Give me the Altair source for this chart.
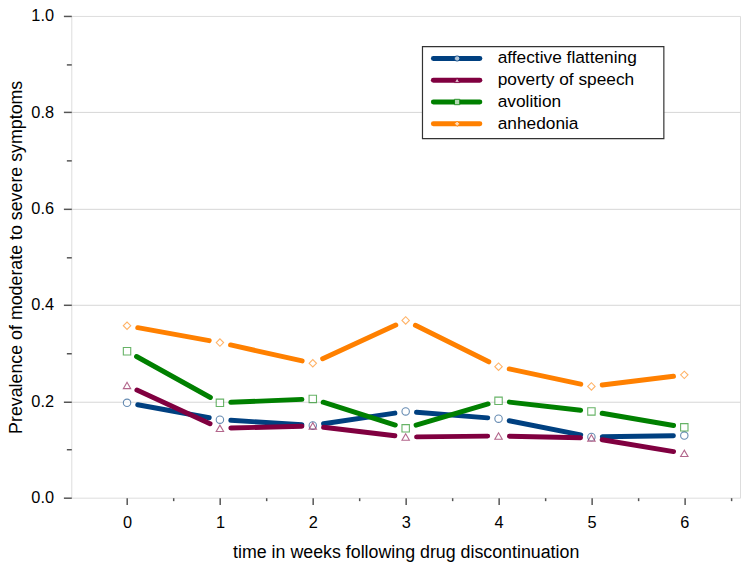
import altair as alt
import pandas as pd

# ---- data ----
weeks = [0, 1, 2, 3, 4, 5, 6]
series_names = ["affective flattening", "poverty of speech", "avolition", "anhedonia"]
affective_flattening = [0.197, 0.162, 0.150, 0.179, 0.164, 0.126, 0.129]
poverty_of_speech = [0.233, 0.144, 0.149, 0.126, 0.128, 0.124, 0.092]
avolition = [0.304, 0.197, 0.205, 0.144, 0.201, 0.179, 0.146]
anhedonia = [0.357, 0.322, 0.279, 0.368, 0.272, 0.231, 0.255]

y_tick_values = [0.0, 0.1, 0.2, 0.3, 0.4, 0.5, 0.6, 0.7, 0.8, 0.9, 1.0]
x_tick_values = [0, 0.5, 1, 1.5, 2, 2.5, 3, 3.5, 4, 4.5, 5, 5.5, 6, 6.5]

# ---- styles ----
line_colors = ["#004080", "#800040", "#008000", "#ff8000"]
marker_shapes = ["circle", "triangle-up", "square", "diamond"]
FONT = "Liberation Sans"
W, H = 676, 487
X_DOMAIN = [-0.6, 6.6]
PX = W / (X_DOMAIN[1] - X_DOMAIN[0])
PY = H / 1.0
GAP = 11

all_series = [affective_flattening, poverty_of_speech, avolition, anhedonia]

pt_rows = []
seg_rows = []
for name, vals in zip(series_names, all_series):
    for i, (w, v) in enumerate(zip(weeks, vals)):
        pt_rows.append({"series": name, "week": w, "value": v})
        if i + 1 < len(weeks):
            seg_rows.append({"series": name, "x0": w, "y0": v,
                             "x1": weeks[i + 1], "y1": vals[i + 1]})
pt_df = pd.DataFrame(pt_rows)
seg_df = pd.DataFrame(seg_rows)

stroke_scale = alt.Scale(domain=series_names, range=line_colors)
shape_scale = alt.Scale(domain=series_names, range=marker_shapes)
x_scale = alt.Scale(domain=X_DOMAIN, nice=False, zero=False)
y_scale = alt.Scale(domain=[0, 1], nice=False)

x_major = "abs(datum.value - round(datum.value)) < 1e-6"
y_major = "abs(datum.value*5 - round(datum.value*5)) < 1e-6"

x_axis = alt.Axis(
    values=x_tick_values,
    labelExpr=f"{x_major} ? format(datum.value, 'd') : ''",
    tickSize={"condition": {"test": x_major, "value": 7}, "value": 3},
    grid=False, domain=False,
    tickColor="#555", tickWidth=1.5,
    labelFontSize=16.5, labelColor="black", labelPadding=10,
    title="time in weeks following drug discontinuation",
    titleFontSize=18, titleFontWeight="normal", titleColor="black",
    titleBaseline="alphabetic", titleY=60, titleX=W / 2,
)
y_axis = alt.Axis(
    values=y_tick_values,
    labelExpr=f"{y_major} ? format(datum.value, '.1f') : ''",
    tickSize={"condition": {"test": y_major, "value": 8}, "value": 5},
    grid=True,
    gridColor="#d6d6d6", gridWidth=1,
    gridOpacity={"condition": {"test": f"{y_major} && datum.value > 0.01 && datum.value < 0.99", "value": 1}, "value": 0},
    domain=False,
    tickColor="#555", tickWidth=1.5,
    labelFontSize=16.5, labelColor="black", labelPadding=10,
    title="Prevalence of moderate to severe symptoms",
    titleFontSize=18, titleFontWeight="normal", titleColor="black",
    titleBaseline="alphabetic", titleX=-50, titleY=H / 2, titleAngle=-90,
)

segs = alt.Chart(seg_df).transform_calculate(
    L=f"sqrt(pow((datum.x1-datum.x0)*{PX},2)+pow((datum.y1-datum.y0)*{PY},2))"
).transform_calculate(
    f=f"{GAP}/datum.L"
).transform_calculate(
    xs="datum.x0 + datum.f*(datum.x1-datum.x0)",
    xe="datum.x1 - datum.f*(datum.x1-datum.x0)",
    ys="datum.y0 + datum.f*(datum.y1-datum.y0)",
    ye="datum.y1 - datum.f*(datum.y1-datum.y0)",
).mark_rule(strokeWidth=5, strokeCap="round").encode(
    x=alt.X("xs:Q", scale=x_scale, axis=x_axis),
    x2="xe:Q",
    y=alt.Y("ys:Q", scale=y_scale, axis=y_axis),
    y2="ye:Q",
    stroke=alt.Stroke("series:N", scale=stroke_scale, legend=None),
)

pts = alt.Chart(pt_df).mark_point(filled=True, fill="white", strokeWidth=1.1,
                                   size=56, strokeOpacity=0.85).encode(
    x=alt.X("week:Q", scale=x_scale),
    y=alt.Y("value:Q", scale=y_scale),
    stroke=alt.Stroke("series:N", scale=stroke_scale, legend=None),
    shape=alt.Shape("series:N", scale=shape_scale, legend=None),
)

main = alt.layer(segs, pts)

# ---- legend (drawn as marks) ----
leg_df = pd.DataFrame({"series": series_names, "idx": list(range(len(series_names)))})
leg_y = alt.Y("idx:Q", scale=alt.Scale(domain=[0, len(series_names) - 1], range=[43, 109], nice=False, zero=False), axis=None)

box = alt.Chart(pd.DataFrame({"k": [0]})).mark_rect(
    fill="white", stroke="#333", strokeWidth=1.2
).encode(x=alt.value(355), x2=alt.value(599), y=alt.value(31), y2=alt.value(124))

leg_lines = alt.Chart(leg_df).mark_rule(strokeWidth=5, strokeCap="round").encode(
    x=alt.value(366), x2=alt.value(413), y=leg_y,
    stroke=alt.Stroke("series:N", scale=stroke_scale, legend=None),
)
leg_pts = alt.Chart(leg_df).mark_point(filled=True, fill="white", strokeWidth=1, size=30).encode(
    x=alt.value(390), y=leg_y,
    stroke=alt.Stroke("series:N", scale=stroke_scale, legend=None),
    shape=alt.Shape("series:N", scale=shape_scale, legend=None),
)
leg_text = alt.Chart(leg_df).mark_text(align="left", baseline="middle", fontSize=17.5,
                                       font=FONT, color="black").encode(
    x=alt.value(431), y=leg_y, text="series:N",
)
legend = alt.layer(box, leg_lines, leg_pts, leg_text)

chart = alt.layer(main, legend).resolve_scale(y="independent").properties(
    width=W, height=H,
    autosize=alt.AutoSizeParams(type="none"),
    padding={"left": 64, "top": 5, "right": 2, "bottom": 64},
).configure_view(
    stroke="#555", strokeWidth=1.5
).configure_axis(
    labelFont=FONT, titleFont=FONT
).configure(background="white")

chart.save("out.html", embed_options={"renderer": "svg", "actions": False})
